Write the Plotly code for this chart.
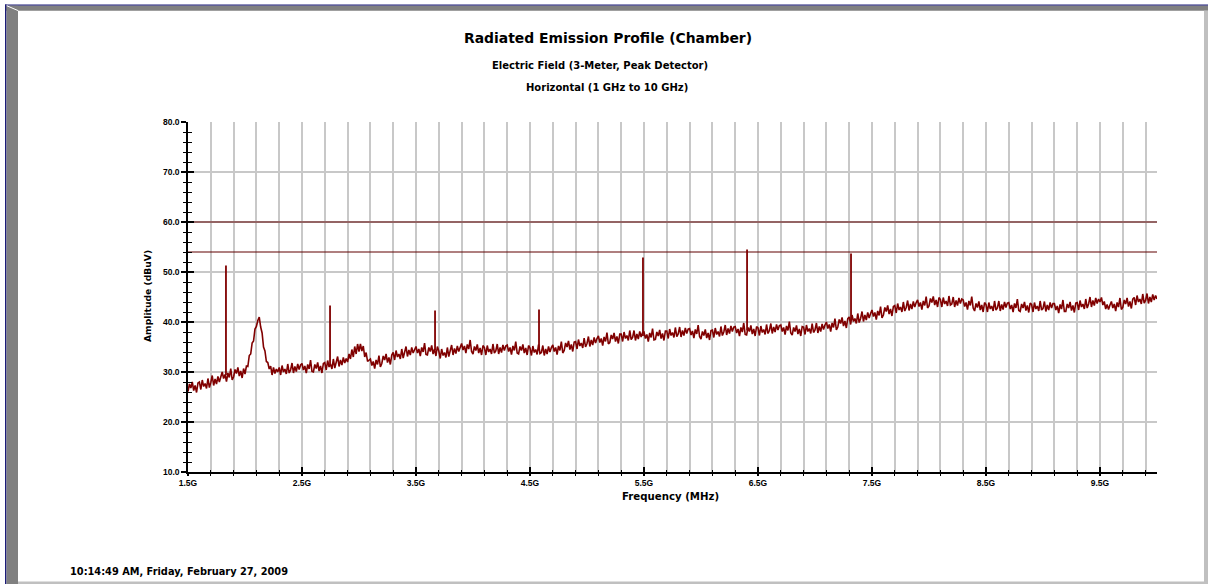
import plotly.graph_objects as go

# ---------------- data ----------------
FREQ_START_GHZ = 1.5
FREQ_STEP_GHZ = 0.0125

amplitude_dbuv = [
    26.1, 27.6, 26.8, 28.0, 26.3, 27.3, 25.9, 27.8,
    28.0, 26.5, 28.4, 27.1, 27.7, 26.7, 28.7, 26.9,
    27.9, 29.3, 27.3, 28.6, 27.6, 29.1, 28.0, 28.9,
    30.0, 28.7, 29.5, 28.1, 29.8, 28.9, 30.7, 28.4,
    29.0, 30.5, 29.7, 30.9, 29.2, 30.2, 28.8, 30.7,
    29.6, 31.2, 31.1, 33.3, 33.6, 35.8, 36.2, 38.6,
    39.1, 40.3, 41.0, 39.0, 37.8, 35.0, 34.2, 32.1,
    31.9, 30.6, 31.2, 29.4, 30.9, 29.7, 30.6, 30.0,
    30.9, 29.4, 31.3, 30.0, 30.6, 29.6, 31.6, 29.8,
    30.4, 31.8, 29.8, 31.1, 30.1, 31.6, 30.5, 31.4,
    31.7, 30.4, 31.2, 29.8, 31.5, 30.6, 32.4, 30.1,
    30.0, 31.5, 30.7, 31.9, 30.2, 31.2, 29.8, 31.7,
    31.9, 30.4, 32.3, 31.0, 31.6, 30.6, 32.6, 30.8,
    31.7, 33.1, 31.1, 32.4, 31.4, 32.9, 31.8, 32.7,
    32.0, 33.6, 32.6, 34.5, 33.0, 35.1, 33.6, 35.6,
    34.1, 35.6, 34.2, 35.2, 33.0, 33.9, 32.1, 32.3,
    32.6, 31.3, 32.1, 30.7, 32.4, 31.5, 33.3, 31.0,
    31.7, 33.2, 32.4, 33.6, 31.9, 32.9, 31.5, 33.4,
    33.9, 32.4, 34.3, 33.0, 33.6, 32.6, 34.6, 32.8,
    33.7, 35.1, 33.1, 34.4, 33.4, 34.9, 33.8, 34.7,
    35.1, 33.8, 34.6, 33.2, 34.9, 34.0, 35.8, 33.5,
    33.4, 34.9, 34.1, 35.3, 33.6, 34.6, 33.2, 35.1,
    34.2, 32.7, 34.6, 33.3, 33.9, 32.9, 34.9, 33.1,
    34.0, 35.4, 33.4, 34.7, 33.7, 35.2, 34.1, 35.0,
    35.7, 34.4, 35.2, 33.8, 35.5, 34.6, 36.4, 34.1,
    33.6, 35.1, 34.3, 35.5, 33.8, 34.8, 33.4, 35.3,
    34.9, 33.4, 35.3, 34.0, 34.6, 33.6, 35.6, 33.8,
    34.2, 35.6, 33.6, 34.9, 33.9, 35.4, 34.3, 35.2,
    35.4, 34.1, 34.9, 33.5, 35.2, 34.3, 36.1, 33.8,
    33.6, 35.1, 34.3, 35.5, 33.8, 34.8, 33.4, 35.3,
    34.8, 33.3, 35.2, 33.9, 34.5, 33.5, 35.5, 33.7,
    33.9, 35.3, 33.3, 34.6, 33.6, 35.1, 34.0, 34.9,
    35.4, 34.1, 34.9, 33.5, 35.2, 34.3, 36.1, 33.8,
    34.3, 35.8, 35.0, 36.2, 34.5, 35.5, 34.1, 36.0,
    36.1, 34.6, 36.5, 35.2, 35.8, 34.8, 36.8, 35.0,
    35.7, 37.1, 35.1, 36.4, 35.4, 36.9, 35.8, 36.7,
    37.2, 35.9, 36.7, 35.3, 37.0, 36.1, 37.9, 35.6,
    35.9, 37.4, 36.6, 37.8, 36.1, 37.1, 35.7, 37.6,
    37.6, 36.1, 38.0, 36.7, 37.3, 36.3, 38.3, 36.5,
    36.9, 38.3, 36.3, 37.6, 36.6, 38.1, 37.0, 37.9,
    38.0, 36.7, 37.5, 36.1, 37.8, 36.9, 38.7, 36.4,
    36.5, 38.0, 37.2, 38.4, 36.7, 37.7, 36.3, 38.2,
    38.2, 36.7, 38.6, 37.3, 37.9, 36.9, 38.9, 37.1,
    37.6, 39.0, 37.0, 38.3, 37.3, 38.8, 37.7, 38.6,
    38.7, 37.4, 38.2, 36.8, 38.5, 37.6, 39.4, 37.1,
    36.6, 38.1, 37.3, 38.5, 36.8, 37.8, 36.4, 38.3,
    38.4, 36.9, 38.8, 37.5, 38.1, 37.1, 39.1, 37.3,
    38.0, 39.4, 37.4, 38.7, 37.7, 39.2, 38.1, 39.0,
    39.1, 37.8, 38.6, 37.2, 38.9, 38.0, 39.8, 37.5,
    37.4, 38.9, 38.1, 39.3, 37.6, 38.6, 37.2, 39.1,
    38.8, 37.3, 39.2, 37.9, 38.5, 37.5, 39.5, 37.7,
    38.3, 39.7, 37.7, 39.0, 38.0, 39.5, 38.4, 39.3,
    39.4, 38.1, 38.9, 37.5, 39.2, 38.3, 40.1, 37.8,
    37.4, 38.9, 38.1, 39.3, 37.6, 38.6, 37.2, 39.1,
    39.0, 37.5, 39.4, 38.1, 38.7, 37.7, 39.7, 37.9,
    38.4, 39.8, 37.8, 39.1, 38.1, 39.6, 38.5, 39.4,
    40.0, 38.7, 39.5, 38.1, 39.8, 38.9, 40.7, 38.4,
    39.0, 40.5, 39.7, 40.9, 39.2, 40.2, 38.8, 40.7,
    41.0, 39.5, 41.4, 40.1, 40.7, 39.7, 41.7, 39.9,
    40.7, 42.1, 40.1, 41.4, 40.4, 41.9, 40.8, 41.7,
    42.4, 41.1, 41.9, 40.5, 42.2, 41.3, 43.1, 40.8,
    41.4, 42.9, 42.1, 43.3, 41.6, 42.6, 41.2, 43.1,
    43.3, 41.8, 43.7, 42.4, 43.0, 42.0, 44.0, 42.2,
    42.9, 44.3, 42.3, 43.6, 42.6, 44.1, 43.0, 43.9,
    44.4, 43.1, 43.9, 42.5, 44.2, 43.3, 45.1, 42.8,
    43.2, 44.7, 43.9, 45.1, 43.4, 44.4, 43.0, 44.9,
    44.5, 43.0, 44.9, 43.6, 44.2, 43.2, 45.2, 43.4,
    43.6, 45.0, 43.0, 44.3, 43.3, 44.8, 43.7, 44.6,
    44.4, 43.1, 43.9, 42.5, 44.2, 43.3, 45.1, 42.8,
    42.2, 43.7, 42.9, 44.1, 42.4, 43.4, 42.0, 43.9,
    43.5, 42.0, 43.9, 42.6, 43.2, 42.2, 44.2, 42.4,
    42.8, 44.2, 42.2, 43.5, 42.5, 44.0, 42.9, 43.8,
    43.9, 42.6, 43.4, 42.0, 43.7, 42.8, 44.6, 42.3,
    42.1, 43.6, 42.8, 44.0, 42.3, 43.3, 41.9, 43.8,
    43.5, 42.0, 43.9, 42.6, 43.2, 42.2, 44.2, 42.4,
    42.7, 44.1, 42.1, 43.4, 42.4, 43.9, 42.8, 43.7,
    43.7, 42.4, 43.2, 41.8, 43.5, 42.6, 44.4, 42.1,
    42.1, 43.6, 42.8, 44.0, 42.3, 43.3, 41.9, 43.8,
    43.9, 42.4, 44.3, 43.0, 43.6, 42.6, 44.6, 42.8,
    43.6, 45.0, 43.0, 44.3, 43.3, 44.8, 43.7, 44.6,
    44.0, 44.9, 43.4, 44.1, 42.6, 43.5, 42.5, 43.4,
    44.1, 42.8, 43.6, 42.2, 43.9, 43.0, 44.8, 42.5,
    42.9, 44.4, 43.6, 44.8, 43.1, 44.1, 42.7, 44.6,
    44.9, 43.4, 45.3, 44.0, 44.6, 43.6, 45.6, 43.8,
    44.3, 45.7, 43.7, 45.0, 44.0, 45.5, 44.4, 45.3,
    44.6,
]
frequency_ghz = [round(FREQ_START_GHZ + FREQ_STEP_GHZ * i, 4) for i in range(len(amplitude_dbuv))]

spike_freq_ghz = [1.833, 2.746, 3.667, 4.579, 5.491, 6.404, 7.316]
spike_peak_dbuv = [51.3, 43.3, 42.3, 42.5, 52.9, 54.5, 53.7]
spike_base_dbuv = [29.4, 31.4, 34.3, 34.3, 37.2, 38.3, 40.3]

limit_lines_dbuv = [60.0, 54.0]

x_range = [1.5, 10.0]
y_range = [10.0, 80.0]

title_text = "Radiated Emission Profile (Chamber)"
subtitle1_text = "Electric Field (3-Meter, Peak Detector)"
subtitle2_text = "Horizontal (1 GHz to 10 GHz)"
x_title = "Frequency (MHz)"
y_title = "Amplitude (dBuV)"
timestamp_text = "10:14:49 AM, Friday, February 27, 2009"

# ---------------- layout geometry ----------------
W, H = 1208, 584
ML, MR, MT, MB = 188, 51, 122, 112
PW, PH = W - ML - MR, H - MT - MB

def px(x):
    return (x - ML) / PW

def py(y):
    return (H - MB - y) / PH

TRACE = "#800000"
GRID = "#c8c8c8"
TICKFONT = "Liberation Sans, Arial, sans-serif"
TEXTFONT = "DejaVu Sans, Verdana, sans-serif"

fig = go.Figure()

# limit lines
for lv in limit_lines_dbuv:
    fig.add_trace(go.Scatter(x=x_range, y=[lv, lv], mode="lines",
                             line=dict(color="#600000", width=1.2),
                             hoverinfo="skip", showlegend=False))

# spikes
sx, sy = [], []
for f, b, p in zip(spike_freq_ghz, spike_base_dbuv, spike_peak_dbuv):
    sx += [f, f, None]
    sy += [b, p, None]
fig.add_trace(go.Scatter(x=sx, y=sy, mode="lines",
                         line=dict(color=TRACE, width=1.8),
                         hoverinfo="skip", showlegend=False))

# main trace
fig.add_trace(go.Scatter(x=frequency_ghz, y=amplitude_dbuv, mode="lines",
                         line=dict(color=TRACE, width=1.6),
                         hoverinfo="skip", showlegend=False))

# invisible trace on the overlay axes (for crossing ticks)
fig.add_trace(go.Scatter(x=[x_range[0]], y=[y_range[0]], xaxis="x2", yaxis="y2",
                         mode="markers", marker=dict(opacity=0),
                         hoverinfo="skip", showlegend=False))

tickfont = dict(family=TICKFONT, size=8.5, color="black", weight="bold")

fig.update_layout(
    width=W, height=H,
    margin=dict(l=ML, r=MR, t=MT, b=MB),
    paper_bgcolor="white", plot_bgcolor="white",
    showlegend=False,
    xaxis=dict(range=x_range, tickmode="linear", tick0=1.5, dtick=1.0,
               tickformat=".1f", ticksuffix="G", tickfont=tickfont,
               ticks="outside", ticklen=2, tickwidth=1.5, tickcolor="black",
               showline=True, linecolor="black", linewidth=1.5,
               showgrid=True, gridcolor=GRID, gridwidth=1.5, zeroline=False,
               minor=dict(tick0=1.5, dtick=0.2, ticks="outside", ticklen=2,
                          tickwidth=1.2, tickcolor="black",
                          showgrid=True, gridcolor=GRID, gridwidth=1.5),
               fixedrange=True),
    xaxis2=dict(range=x_range, overlaying="x", anchor="y", side="bottom",
                tickmode="linear", tick0=1.5, dtick=1.0, showticklabels=False,
                ticks="inside", ticklen=5, tickwidth=1.5, tickcolor="black",
                showline=False, showgrid=False, zeroline=False,
                minor=dict(tick0=1.5, dtick=0.2, ticks="inside", ticklen=2,
                           tickwidth=1.2, tickcolor="black", showgrid=False),
                fixedrange=True),
    yaxis=dict(range=y_range, tickmode="linear", tick0=10, dtick=10,
               tickformat=".1f", tickfont=tickfont,
               ticks="outside", ticklen=5, tickwidth=1.5, tickcolor="black",
               showline=True, linecolor="black", linewidth=1.5,
               showgrid=True, gridcolor=GRID, gridwidth=1.5, zeroline=False,
               minor=dict(tick0=10, dtick=2, ticks="outside", ticklen=3,
                          tickwidth=1.2, tickcolor="black", showgrid=False),
               fixedrange=True),
    yaxis2=dict(range=y_range, overlaying="y", anchor="x", side="left",
                tickmode="linear", tick0=10, dtick=10, showticklabels=False,
                ticks="inside", ticklen=6, tickwidth=1.5, tickcolor="black",
                showline=False, showgrid=False, zeroline=False,
                minor=dict(tick0=10, dtick=2, ticks="inside", ticklen=4,
                           tickwidth=1.2, tickcolor="black", showgrid=False),
                fixedrange=True),
)

def ann(text, x, y, size, xanchor="center", textangle=0):
    fig.add_annotation(text=text, xref="paper", yref="paper",
                       x=px(x), y=py(y), xanchor=xanchor, yanchor="middle",
                       showarrow=False, textangle=textangle,
                       font=dict(family=TEXTFONT, size=size, color="black", weight="bold"))

ann(title_text, 607.5, 38, 13.9)
ann(subtitle1_text, 600, 65, 10)
ann(subtitle2_text, 606.5, 88, 10)
ann(x_title, 670, 496.5, 10.2)
ann(y_title, 147, 296, 9.2, textangle=-90)
ann(timestamp_text, 68, 571.7, 9.8, xanchor="left")

# window frame (3D panel border)
def rect(x0, y0, x1, y1, color):
    fig.add_shape(type="rect", xref="paper", yref="paper",
                  x0=px(x0), x1=px(x1), y0=py(y0), y1=py(y1),
                  line=dict(width=0), fillcolor=color, layer="above")

rect(5, 4.5, 1208, 5.7, "#1c1c78")
rect(5.7, 5.7, 1208, 10.7, "#808080")
rect(5, 4.5, 6.5, 584, "#1c1c78")
rect(6.5, 5.7, 18, 584, "#808080")
rect(1204, 10.7, 1208, 584, "#c0c0c0")
rect(18, 581.5, 1204, 584, "#c0c0c0")
fig.add_shape(type="line", xref="paper", yref="paper",
              x0=px(6.7), y0=py(5.7), x1=px(18.3), y1=py(10.7),
              line=dict(color="white", width=1), layer="above")

fig.write_html("out.html", config={"displayModeBar": False},
               post_script="document.body.style.margin='0';document.body.style.overflow='hidden';")
